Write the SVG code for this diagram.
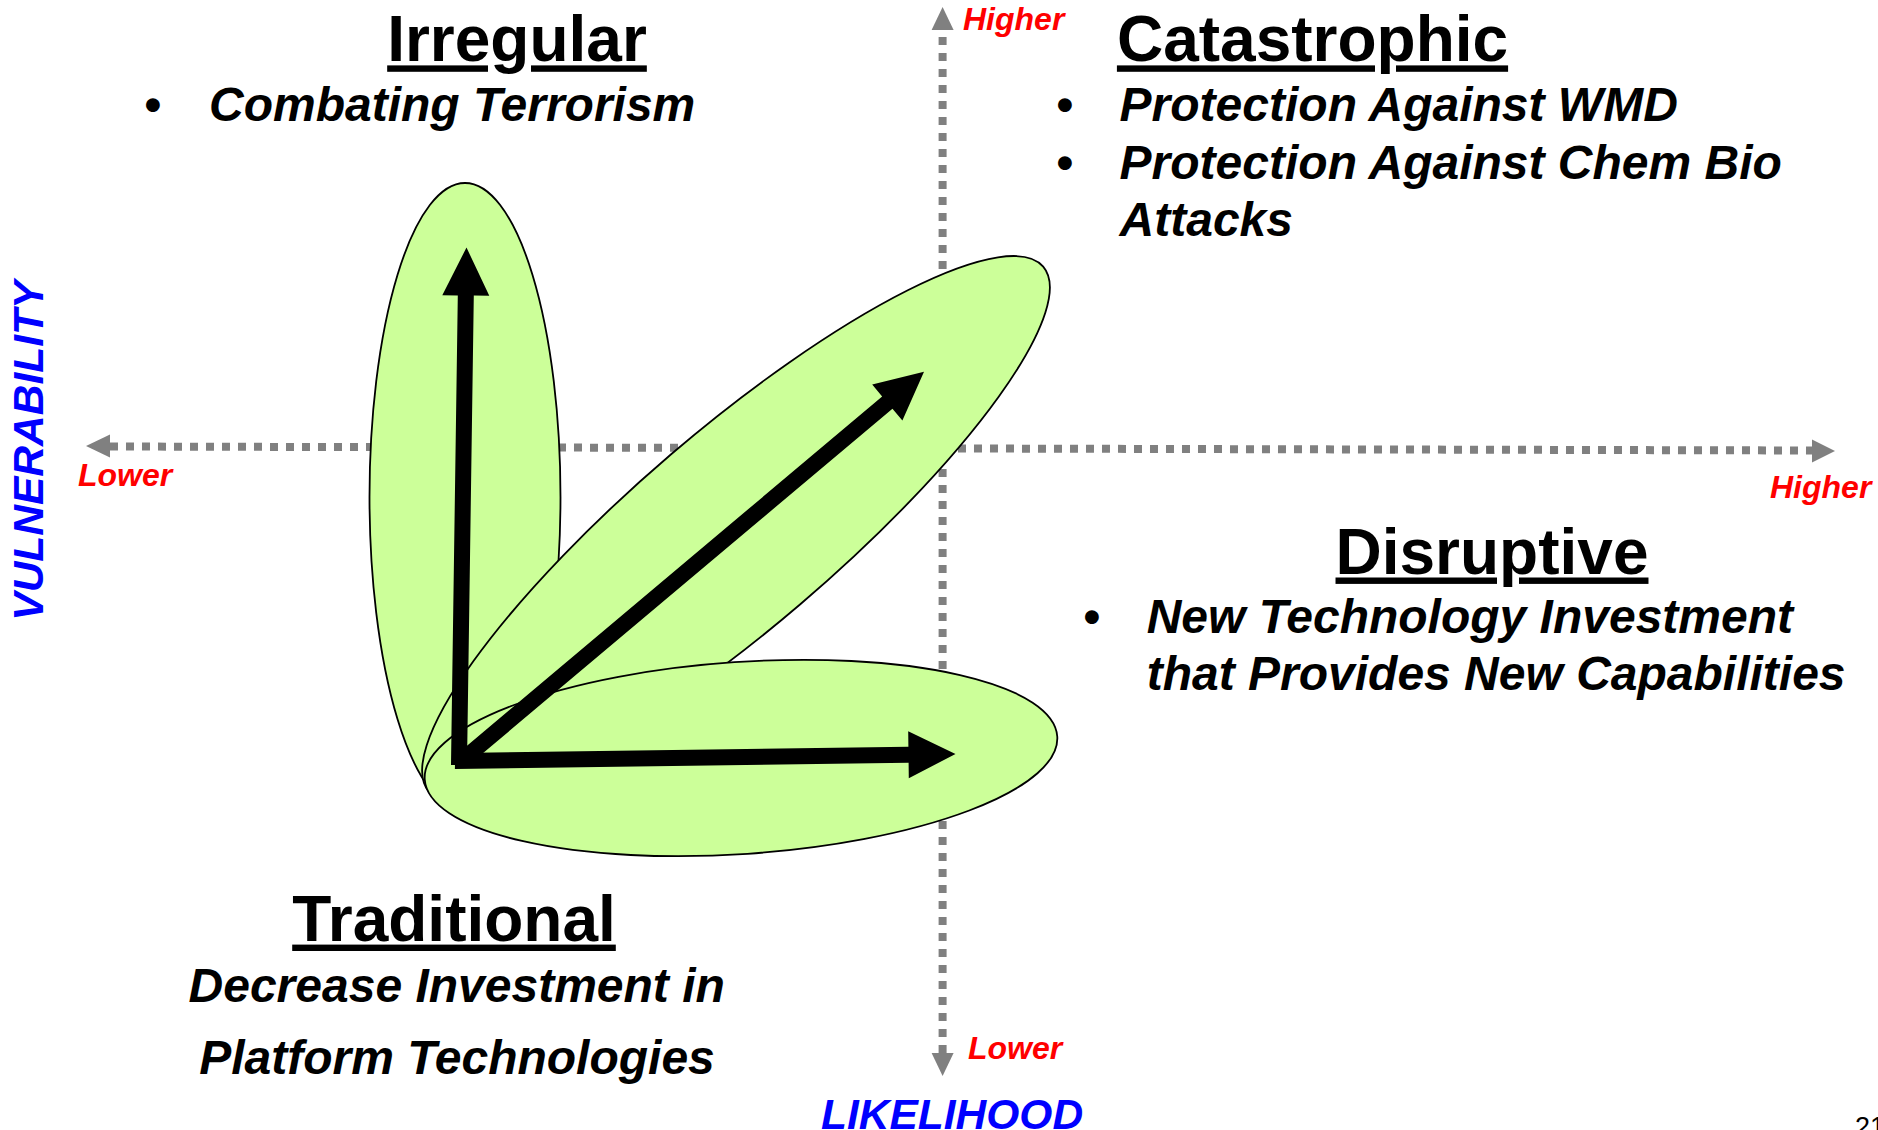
<svg xmlns="http://www.w3.org/2000/svg" width="1878" height="1130" viewBox="0 0 1878 1130">
<style>
.title{font-family:"Liberation Sans",Arial,sans-serif;font-weight:bold;font-size:64px;fill:#000;text-decoration:underline}
.item{font-family:"Liberation Sans",Arial,sans-serif;font-weight:bold;font-style:italic;font-size:48px;fill:#000}
.bul{font-family:"Liberation Sans",Arial,sans-serif;font-weight:bold;font-size:48px;fill:#000}
.red{font-family:"Liberation Sans",Arial,sans-serif;font-weight:bold;font-style:italic;font-size:32px;fill:#ff0000}
.blue{font-family:"Liberation Sans",Arial,sans-serif;font-weight:bold;font-style:italic;font-size:42.5px;fill:#0000ff}
.axis{stroke:#808080;stroke-width:8;stroke-dasharray:8 8;fill:none}
.head{fill:#808080}
.blob{fill:#ccff99;stroke:#000;stroke-width:1.8}
.arrow{fill:#000}
</style>
<rect width="1878" height="1130" fill="#fff"/>
<g id="axes">
<line class="axis" x1="110" y1="446.5" x2="1812" y2="450.5"/>
<polygon class="head" points="86,446 110,434.5 110,457.5"/>
<polygon class="head" points="1835,451 1812,439.5 1812,462.5"/>
<line class="axis" x1="942.6" y1="1053" x2="942.6" y2="29"/>
<polygon class="head" points="942.6,7 931.6,30 953.6,30"/>
<polygon class="head" points="942.6,1076 931.6,1053 953.6,1053"/>
</g>
<g id="irregular-blob"><ellipse class="blob" cx="465" cy="497" rx="95.5" ry="314"/></g>
<g id="catastrophic-blob"><ellipse class="blob" cx="736" cy="529" rx="404" ry="99" transform="rotate(-40.5 736 529)"/></g>
<g id="traditional-blob"><ellipse class="blob" cx="741" cy="758" rx="317" ry="96" transform="rotate(-3.9 741 758)"/></g>
<g id="connectors">
<polygon class="arrow" points="451,765 457.8,295.4 442.3,295.2 466.5,247.5 489.3,295.8 473.8,295.6 467,765"/>
<polygon class="arrow" points="455.1,753 908.4,746.7 908.2,731.2 955.5,754 908.8,778.2 908.6,762.7 454.9,769"/>
<polygon class="arrow" points="454.85,755.9 882.15,396.5 872.2,384.6 924,371.7 902.4,420.6 892.45,408.7 465.15,768.1"/>
</g>
<g id="irregular">
<text class="title" x="517" y="61.4" text-anchor="middle">Irregular</text>
<text class="bul" x="153" y="121.4" text-anchor="middle">•</text>
<text class="item" x="209" y="121.4">Combating Terrorism</text>
</g>
<g id="catastrophic">
<text class="title" x="1312.5" y="61.4" text-anchor="middle">Catastrophic</text>
<text class="bul" x="1065" y="121.4" text-anchor="middle">•</text>
<text class="item" x="1119.6" y="121.4">Protection Against WMD</text>
<text class="bul" x="1065" y="178.6" text-anchor="middle">•</text>
<text class="item" x="1119.6" y="178.6">Protection Against Chem Bio</text>
<text class="item" x="1119.6" y="236.4">Attacks</text>
</g>
<g id="disruptive">
<text class="title" x="1492" y="573.5" text-anchor="middle">Disruptive</text>
<text class="bul" x="1092" y="632.6" text-anchor="middle">•</text>
<text class="item" x="1146.7" y="632.6">New Technology Investment</text>
<text class="item" x="1146.7" y="689.6">that Provides New Capabilities</text>
</g>
<g id="traditional">
<text class="title" x="454" y="940.6" text-anchor="middle">Traditional</text>
<text class="item" x="456.7" y="1001.7" text-anchor="middle">Decrease Investment in</text>
<text class="item" x="457" y="1074.4" text-anchor="middle">Platform Technologies</text>
</g>
<g id="axis-labels">
<text class="red" x="963" y="30.4">Higher</text>
<text class="red" x="78" y="486">Lower</text>
<text class="red" x="1770" y="497.5">Higher</text>
<text class="red" x="968" y="1058.7">Lower</text>
<text class="blue" x="821" y="1129">LIKELIHOOD</text>
<text class="blue" transform="translate(43.3 620.7) rotate(-90)">VULNERABILITY</text>
</g>
<g id="page-number">
<text x="1855" y="1136" font-family="Liberation Sans, Arial, sans-serif" font-size="27" fill="#000">21</text>
</g>
</svg>
